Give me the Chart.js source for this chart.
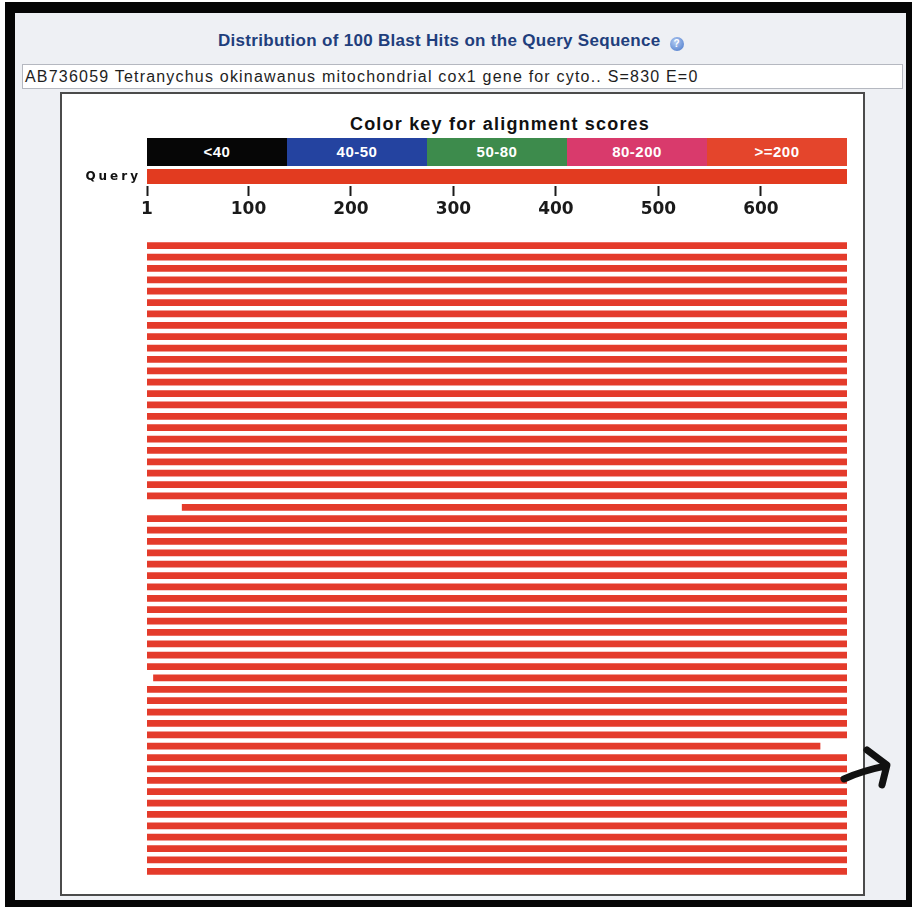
<!DOCTYPE html>
<html>
<head>
<meta charset="utf-8">
<title>Distribution of 100 Blast Hits</title>
<script src="https://cdn.jsdelivr.net/npm/chart.js"></script>
<style>
body { margin: 0; width: 912px; height: 907px; background: #fff; position: relative; overflow: hidden; font-family: "Liberation Sans", Arial, sans-serif; }
#frame { position: absolute; left: 5px; top: 2px; width: 907px; height: 905px; background: #050505; }
#panel { position: absolute; left: 15px; top: 13px; width: 891px; height: 887px; background: #eef0f4; }
#title { position: absolute; left: 218px; top: 31px; font-size: 17px; font-weight: bold; letter-spacing: 0.3px; color: #213e7c; white-space: nowrap; }
#help { display: inline-block; width: 14px; height: 14px; border-radius: 50%; background: radial-gradient(circle at 40% 35%, #b3cbf2, #4474c8); color: #fff; font-size: 10px; line-height: 14px; text-align: center; vertical-align: -1px; margin-left: 9px; letter-spacing: 0; }
#desc { position: absolute; left: 22px; top: 64px; width: 881px; height: 25px; box-sizing: border-box; border: 1px solid #b5b8c0; background: #fff; font-size: 16px; letter-spacing: 1.2px; line-height: 23px; padding-left: 2px; color: #1e1e1e; white-space: nowrap; }
#box { position: absolute; left: 60px; top: 92px; width: 805px; height: 804px; box-sizing: border-box; border: 2px solid #4b4b4b; background: #fff; }
#keytitle { position: absolute; left: 150px; width: 700px; top: 114px; text-align: center; font-size: 18px; letter-spacing: 1.2px; font-weight: bold; color: #111; }
#key { position: absolute; left: 147px; top: 138px; width: 700px; height: 28px; display: flex; }
#key div { flex: 1; color: #fff; font-size: 15px; letter-spacing: 0.5px; font-weight: bold; text-align: center; line-height: 28px; }
canvas { position: absolute; }
</style>
</head>
<body>
<div id="frame"></div>
<div id="panel"></div>
<div id="title">Distribution of 100 Blast Hits on the Query Sequence<span id="help">?</span></div>
<div id="desc">AB736059 Tetranychus okinawanus mitochondrial cox1 gene for cyto.. S=830 E=0</div>
<div id="box"></div>
<div id="keytitle">Color key for alignment scores</div>
<div id="key"></div>
<canvas id="queryChart" width="800" height="57" style="left:62px;top:166px"></canvas>
<canvas id="hitChart" width="840" height="644" style="left:62px;top:236px"></canvas>

<script>
// color key
const keyLabels = ["<40", "40-50", "50-80", "80-200", ">=200"];
const keyColors = ["#060606", "#2443a0", "#3d8b4c", "#d93a6c", "#e4452c"];

// query sequence
const queryName = "Query";
const queryLength = 684;
const axisTicks = [1, 100, 200, 300, 400, 500, 600];

// hits, top to bottom (all score >= 200)
const hitStart = [1, 1, 1, 1, 1, 1, 1, 1, 1, 1,
                  1, 1, 1, 1, 1, 1, 1, 1, 1, 1,
                  1, 1, 1, 35, 1, 1, 1, 1, 1, 1,
                  1, 1, 1, 1, 1, 1, 1, 1, 7, 1,
                  1, 1, 1, 1, 1, 1, 1, 1, 1, 1,
                  1, 1, 1, 1, 1, 1];
const hitEnd = [684, 684, 684, 684, 684, 684, 684, 684, 684, 684,
                684, 684, 684, 684, 684, 684, 684, 684, 684, 684,
                684, 684, 684, 684, 684, 684, 684, 684, 684, 684,
                684, 684, 684, 684, 684, 684, 684, 684, 684, 684,
                684, 684, 684, 684, 658, 684, 684, 684, 684, 684,
                684, 684, 684, 684, 684, 684];
const hitColor = "#e43b2b";

const keyDiv = document.getElementById("key");
keyLabels.forEach((t, i) => {
	const d = document.createElement("div");
	d.textContent = t;
	d.style.background = keyColors[i];
	keyDiv.appendChild(d);
});

// "Query" label with wide letter spacing, like the original
const queryLabel = {
	id: "queryLabel",
	afterDraw(chart) {
		const ctx = chart.ctx;
		const y = chart.scales.y;
		ctx.save();
		ctx.font = 'bold 12px "DejaVu Sans"';
		ctx.letterSpacing = "3px";
		ctx.fillStyle = "#111";
		ctx.textAlign = "right";
		ctx.textBaseline = "middle";
		ctx.fillText(y.getLabelForValue(0), chart.chartArea.left - 6, y.getPixelForValue(0));
		ctx.restore();
	}
};

new Chart("queryChart", {
	type: "bar",
	data: {
		labels: [queryName],
		datasets: [{
			data: [[1, queryLength]],
			backgroundColor: "#e23b20",
			barPercentage: 0.8,
			categoryPercentage: 1
		}]
	},
	options: {
		indexAxis: "y",
		responsive: false,
		animation: false,
		layout: { padding: { left: 0, right: 15, top: 1, bottom: 0 } },
		plugins: { legend: { display: false }, tooltip: { enabled: false } },
		scales: {
			x: {
				type: "linear",
				position: "bottom",
				min: 1,
				max: queryLength,
				afterBuildTicks: (s) => { s.ticks = axisTicks.map(v => ({ value: v })); },
				afterFit: (s) => { s.height = 37; },
				grid: { drawOnChartArea: false, tickLength: 10, tickWidth: 2, tickColor: "#1a1a1a" },
				border: { display: false },
				ticks: { padding: 3, color: "#1a1a1a", font: { family: "DejaVu Sans", size: 17, weight: "bold" }, maxRotation: 0 }
			},
			y: {
				grid: { display: false },
				border: { display: false },
				ticks: { display: false },
				afterFit: (s) => { s.width = 85; }
			}
		}
	},
	plugins: [queryLabel]
});

// hand-drawn arrow in the original screenshot, next to hit 47
const arrow = {
	id: "arrow",
	afterDraw(chart) {
		const ctx = chart.ctx;
		const ax = chart.chartArea.right;
		const ay = chart.scales.y.getPixelForValue(46);
		ctx.save();
		ctx.strokeStyle = "#111";
		ctx.lineWidth = 7;
		ctx.lineCap = "round";
		ctx.lineJoin = "round";
		ctx.beginPath();
		ctx.moveTo(ax - 3, ay + 10);
		ctx.quadraticCurveTo(ax + 15, ay + 2, ax + 39, ay - 3);
		ctx.moveTo(ax + 20, ay - 19);
		ctx.lineTo(ax + 40, ay - 4);
		ctx.lineTo(ax + 35, ay + 16);
		ctx.stroke();
		ctx.restore();
	}
};

new Chart("hitChart", {
	type: "bar",
	data: {
		labels: hitStart.map((_, i) => "hit " + (i + 1)),
		datasets: [{
			data: hitStart.map((s, i) => [s, hitEnd[i]]),
			backgroundColor: hitColor,
			barPercentage: 0.6,
			categoryPercentage: 1
		}]
	},
	options: {
		indexAxis: "y",
		responsive: false,
		animation: false,
		layout: { padding: { left: 85, right: 55, top: 4, bottom: 3 } },
		plugins: { legend: { display: false }, tooltip: { enabled: false } },
		scales: {
			x: { type: "linear", min: 1, max: queryLength, display: false },
			y: { display: false }
		}
	},
	plugins: [arrow]
});
</script>
</body>
</html>
